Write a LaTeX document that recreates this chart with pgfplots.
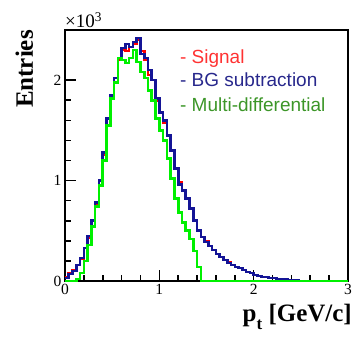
\documentclass[border=0pt]{standalone}
\usepackage{pgfplots}
\pgfplotsset{compat=1.18}
\usepackage{fontspec}
\setmainfont{Liberation Serif}
\newfontfamily\legfont{Liberation Sans}
\definecolor{sigred}{RGB}{255,0,0}
\definecolor{bgblue}{RGB}{20,20,150}
\definecolor{mdgreen}{RGB}{0,240,0}
\definecolor{txtgreen}{RGB}{60,150,40}
\definecolor{txtblue}{RGB}{40,40,140}
\definecolor{txtred}{RGB}{255,50,50}
\begin{document}
\begin{tikzpicture}
\begin{axis}[
  scale only axis, width=283pt, height=251pt,
  xmin=0, xmax=3, ymin=0, ymax=2.5,
  axis line style={line width=2pt},
  tick align=inside, xtick pos=bottom, ytick pos=left,
  xtick={0,1,2,3}, ytick={0,1,2},
  minor x tick num=4, minor y tick num=4,
  major tick length=11pt, minor tick length=6pt,
  every tick/.style={black, line width=1.6pt},
  /pgf/number format/assume math mode=true,
  tick label style={font=\fontsize{15.5}{15.5}\selectfont},
  clip=false,
]
\coordinate (bl) at (rel axis cs:0,0);
\addplot[const plot, sigred, line width=2.6pt] coordinates {
(0,0.04) (0.04,0.08) (0.08,0.11) (0.12,0.16) (0.16,0.22) (0.20,0.33) (0.24,0.43) (0.28,0.60)
(0.32,0.77) (0.36,1.00) (0.40,1.26) (0.44,1.62) (0.48,1.83) (0.52,2.02) (0.56,2.20) (0.60,2.30)
(0.64,2.29) (0.68,2.33) (0.72,2.36) (0.76,2.40) (0.80,2.29) (0.84,2.20) (0.88,2.05) (0.92,2.00)
(0.96,1.80) (1.00,1.68) (1.04,1.58) (1.08,1.45) (1.12,1.30) (1.16,1.12) (1.20,0.98) (1.24,0.90)
(1.28,0.82) (1.32,0.72) (1.36,0.60) (1.40,0.50) (1.44,0.44) (1.48,0.40) (1.52,0.35) (1.56,0.31)
(1.60,0.27) (1.64,0.24) (1.68,0.21) (1.72,0.19) (1.76,0.16) (1.80,0.14) (1.84,0.13) (1.88,0.11)
(1.92,0.09) (1.96,0.08) (2.00,0.06) (2.04,0.05) (2.08,0.04) (2.12,0.04) (2.16,0.03) (2.20,0.03)
(2.24,0.02) (2.28,0.02) (2.32,0.02) (2.36,0.01) (2.40,0.01) (2.44,0.005) (2.48,0)
};
\addplot[const plot, bgblue, line width=2.6pt] coordinates {
(0,0.03) (0.04,0.07) (0.08,0.10) (0.12,0.16) (0.16,0.23) (0.20,0.33) (0.24,0.45) (0.28,0.60)
(0.32,0.78) (0.36,1.00) (0.40,1.28) (0.44,1.62) (0.48,1.85) (0.52,2.02) (0.56,2.22) (0.60,2.32)
(0.64,2.36) (0.68,2.33) (0.72,2.38) (0.76,2.42) (0.80,2.26) (0.84,2.22) (0.88,2.10) (0.92,2.00)
(0.96,1.82) (1.00,1.68) (1.04,1.60) (1.08,1.45) (1.12,1.30) (1.16,1.12) (1.20,0.96) (1.24,0.90)
(1.28,0.82) (1.32,0.72) (1.36,0.60) (1.40,0.50) (1.44,0.44) (1.48,0.39) (1.52,0.35) (1.56,0.31)
(1.60,0.27) (1.64,0.24) (1.68,0.21) (1.72,0.18) (1.76,0.16) (1.80,0.14) (1.84,0.13) (1.88,0.11)
(1.92,0.09) (1.96,0.08) (2.00,0.06) (2.04,0.05) (2.08,0.04) (2.12,0.04) (2.16,0.03) (2.20,0.03)
(2.24,0.02) (2.28,0.02) (2.32,0.02) (2.36,0.01) (2.40,0.01) (2.44,0.005) (2.48,0)
};
\addplot[const plot, mdgreen, line width=2.6pt] coordinates {
(0,0) (0.04,0) (0.08,0) (0.12,0.02) (0.16,0.08) (0.20,0.20) (0.24,0.36) (0.28,0.54)
(0.32,0.74) (0.36,0.95) (0.40,1.20) (0.44,1.55) (0.48,1.82) (0.52,1.98) (0.56,2.22) (0.60,2.20)
(0.64,2.17) (0.68,2.22) (0.72,2.30) (0.76,2.18) (0.80,2.08) (0.84,2.02) (0.88,1.90) (0.92,1.80)
(0.96,1.62) (1.00,1.50) (1.04,1.40) (1.08,1.22) (1.12,1.02) (1.16,0.82) (1.20,0.68) (1.24,0.58)
(1.28,0.50) (1.32,0.42) (1.36,0.30) (1.40,0.14) (1.44,0) (3,0)
};
\node[anchor=base west, font=\fontsize{19}{19}\selectfont, inner sep=0pt] at ([yshift=2pt]rel axis cs:0,1) {×10\textsuperscript{3}};
\node[rotate=90, anchor=base east, inner sep=0pt, font=\fontsize{25}{25}\selectfont\bfseries] at ([xshift=-32pt]rel axis cs:0,1) {Entries};
\node[anchor=base east, inner sep=0pt, font=\fontsize{25}{25}\selectfont\bfseries] at ([xshift=4pt,yshift=-40pt]rel axis cs:1,0) {p\raisebox{-0.35em}{\fontsize{17}{17}\selectfont t} [GeV/c]};
\node[anchor=base west, inner sep=0pt, font=\legfont\fontsize{19}{19}\selectfont, text=txtred] at (rel axis cs:0.406,0.8685) {- Signal};
\node[anchor=base west, inner sep=0pt, font=\legfont\fontsize{19}{19}\selectfont, text=txtblue] at (rel axis cs:0.406,0.773) {- BG subtraction};
\node[anchor=base west, inner sep=0pt, font=\legfont\fontsize{19}{19}\selectfont, text=txtgreen] at (rel axis cs:0.406,0.677) {- Multi-differential};
\end{axis}
\pgfresetboundingbox
\path[use as bounding box] (bl) ++(-65pt,-58pt) rectangle ++(355pt,339pt);
\end{tikzpicture}
\end{document}
